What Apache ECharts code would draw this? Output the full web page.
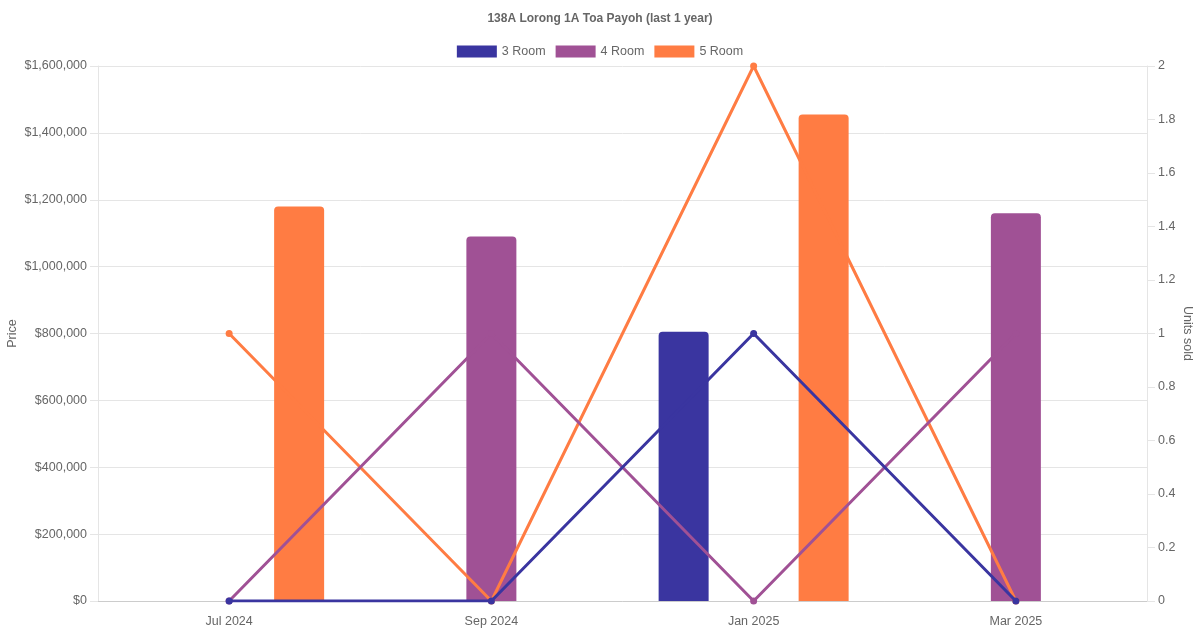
<!DOCTYPE html>
<html>
<head>
<meta charset="utf-8">
<title>138A Lorong 1A Toa Payoh</title>
<script src="https://cdn.jsdelivr.net/npm/echarts@6/dist/echarts.min.js"></script>
<style>
  html,body{margin:0;padding:0;background:#fff}
  #chart{width:1200px;height:630px}
</style>
</head>
<body>
<div id="chart"></div>
<script>
// ---------- 数据 ----------
const months = ['Jul 2024', 'Sep 2024', 'Jan 2025', 'Mar 2025'];
const roomTypes = ['3 Room', '4 Room', '5 Room'];
const colors = ['#3a35a0', '#a05195', '#ff7c43'];

// 成交价（左轴）
const price3 = [null, null, 805000, null];
const price4 = [null, 1090000, null, 1160000];
const price5 = [1180000, null, 1455000, null];

// 成交套数（右轴）
const units3 = [0, 0, 1, 0];
const units4 = [0, 1, 0, 1];
const units5 = [1, 0, 2, 0];

const priceTicks = [0, 1600000, 200000];   // min, max, interval
const unitTicks = [0, 2, 0.2];

const FONT = '"Liberation Sans", Arial, Helvetica, sans-serif';
const TXT = '#666';

// ---------- 系列 ----------
const prices = [price3, price4, price5];
const units = [units3, units4, units5];

const barSeries = roomTypes.map((name, i) => ({
  name, type: 'bar', yAxisIndex: 0, z: 2,
  barWidth: 50, barGap: '40%',
  itemStyle: { color: colors[i], borderRadius: [4, 4, 0, 0] },
  data: prices[i]
}));

// Chart.js 先画后面的数据集，所以 3 Room 的线在最上面
const lineSeries = roomTypes.map((name, i) => ({
  name, type: 'line', yAxisIndex: 1, z: 10 - i,
  symbol: 'circle', symbolSize: 7,
  lineStyle: { width: 3, color: colors[i] },
  itemStyle: { color: colors[i] },
  data: units[i]
}));

const chart = echarts.init(document.getElementById('chart'));
chart.setOption({
  animation: false,
  textStyle: { fontFamily: FONT },
  title: {
    text: '138A Lorong 1A Toa Payoh (last 1 year)',
    left: 'center', top: 8,
    textStyle: { fontFamily: FONT, fontSize: 12, fontWeight: 'bold', color: TXT }
  },
  legend: {
    data: roomTypes.map(n => ({ name: n, icon: 'rect' })),
    top: 40, left: 'center',
    itemWidth: 40, itemHeight: 12, itemGap: 10,
    textStyle: { fontFamily: FONT, fontSize: 12.5, color: TXT }
  },
  grid: { left: 98, right: 53, top: 66, bottom: 29, outerBoundsMode: 'none', containLabel: false },
  xAxis: {
    type: 'category', data: months, boundaryGap: true,
    axisLine: { lineStyle: { color: '#cccccc' } },
    axisTick: { show: false },
    splitLine: { show: false },
    axisLabel: { color: TXT, fontSize: 12.5, margin: 14 }
  },
  yAxis: [
    {
      type: 'value', position: 'left',
      min: priceTicks[0], max: priceTicks[1], interval: priceTicks[2],
      name: 'Price', nameLocation: 'middle', nameGap: 79, nameRotate: 90,
      nameMoveOverlap: false,
      nameTextStyle: { color: TXT, fontSize: 12.5 },
      axisLine: { show: true, lineStyle: { color: '#e5e5e5' } },
      axisTick: { show: true, length: 8, lineStyle: { color: '#e5e5e5' } },
      splitLine: { lineStyle: { color: '#e5e5e5' } },
      axisLabel: {
        color: TXT, fontSize: 12.5, margin: 11,
        formatter: v => '$' + v.toLocaleString('en-US')
      }
    },
    {
      type: 'value', position: 'right',
      min: unitTicks[0], max: unitTicks[1], interval: unitTicks[2],
      name: 'Units sold', nameLocation: 'middle', nameGap: 34, nameRotate: -90,
      nameMoveOverlap: false,
      nameTextStyle: { color: TXT, fontSize: 12.5 },
      axisLine: { show: true, lineStyle: { color: '#e5e5e5' } },
      axisTick: { show: true, length: 8, lineStyle: { color: '#e5e5e5' } },
      splitLine: { show: false },
      axisLabel: {
        color: TXT, fontSize: 12.5, margin: 11,
        formatter: v => String(Math.round(v * 10) / 10)
      }
    }
  ],
  series: barSeries.concat(lineSeries)
});
</script>
</body>
</html>
